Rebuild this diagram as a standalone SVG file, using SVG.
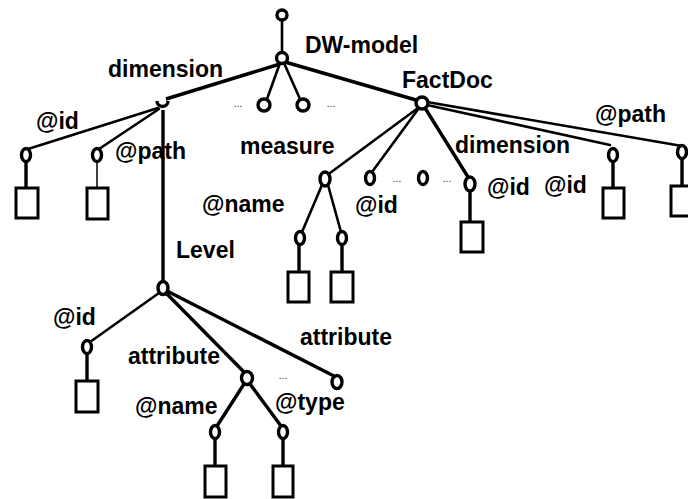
<svg xmlns="http://www.w3.org/2000/svg" width="688" height="499" viewBox="0 0 688 499">
<style>
.n{fill:#fff;stroke:#000;stroke-width:3.4}
.leaf{fill:#fff;stroke:#000;stroke-width:3}
.e{stroke:#000;stroke-width:2.6;fill:none;stroke-linecap:round}
.t{stroke:#000;stroke-width:3.4;fill:none}
.thin{stroke:#000;stroke-width:1.5;fill:none}
.lbl{font-family:"Liberation Sans",Arial,sans-serif;font-weight:bold;font-size:23px;fill:#000}
.dots{font-family:"Liberation Sans",Arial,sans-serif;font-size:10px;fill:#222;text-anchor:middle}
</style>
<rect width="688" height="499" fill="#fff"/>
<g id="connectors">
<line class="e" x1="282" y1="20" x2="282" y2="53"/>
<line class="t" x1="280" y1="64" x2="166" y2="99"/>
<line class="e" x1="280" y1="63" x2="267" y2="99"/>
<line class="e" x1="284" y1="63" x2="300" y2="99"/>
<line class="t" x1="285" y1="62" x2="416" y2="100"/>
<line class="e" x1="158" y1="108" x2="28" y2="149"/>
<line class="e" x1="159" y1="109" x2="99" y2="149"/>
<line class="t" x1="163" y1="110" x2="163" y2="282"/>
<line class="t" x1="26" y1="161" x2="26" y2="188"/>
<line class="thin" x1="97" y1="161" x2="97" y2="188"/>
<line class="e" x1="418" y1="108" x2="330" y2="173"/>
<line class="e" x1="419" y1="108" x2="372" y2="172"/>
<line class="t" x1="425" y1="108" x2="468" y2="177"/>
<line class="e" x1="427" y1="105" x2="610" y2="145"/>
<line class="e" x1="427" y1="102" x2="682" y2="146"/>
<line class="e" x1="322" y1="185" x2="302" y2="232"/>
<line class="e" x1="328" y1="185" x2="341" y2="232"/>
<line class="t" x1="299" y1="244" x2="299" y2="272"/>
<line class="t" x1="342" y1="244" x2="342" y2="272"/>
<line class="t" x1="470" y1="191" x2="470" y2="222"/>
<line class="t" x1="613" y1="161" x2="613" y2="188"/>
<line class="t" x1="682" y1="158" x2="682" y2="186"/>
<line class="e" x1="159" y1="293" x2="90" y2="342"/>
<line class="t" x1="166" y1="293" x2="244" y2="372"/>
<line class="t" x1="167" y1="291" x2="334" y2="376"/>
<line class="t" x1="87" y1="353" x2="87" y2="381"/>
<line class="t" x1="244" y1="384" x2="217" y2="426"/>
<line class="t" x1="250" y1="384" x2="281" y2="426"/>
<line class="t" x1="215" y1="438" x2="215" y2="466"/>
<line class="t" x1="283" y1="438" x2="283" y2="466"/>
</g>
<g id="root"><circle class="n" cx="282" cy="15" r="5"/></g>
<g id="dwmodel"><circle class="n" cx="282" cy="58" r="5.5"/><text class="lbl" x="305" y="53">DW-model</text></g>
<g id="dw-child1"><circle class="n" cx="264" cy="105" r="6"/><text class="dots" x="238" y="107">...</text></g>
<g id="dw-child2"><circle class="n" cx="303" cy="105" r="6"/><text class="dots" x="331" y="107">...</text></g>
<g id="dimension"><path class="n" d="M157,101 A5.5,5.5 0 0 0 168,101" fill="none"/><text class="lbl" x="108" y="77">dimension</text></g>
<g id="dim-id"><ellipse class="n" cx="26" cy="155" rx="4.5" ry="6.5"/><rect class="leaf" x="16" y="188" width="22" height="30"/><text class="lbl" x="36" y="129">@id</text></g>
<g id="dim-path"><ellipse class="n" cx="97" cy="155" rx="4.5" ry="6.5"/><rect class="leaf" x="87" y="188" width="21" height="31"/><text class="lbl" x="115" y="159">@path</text></g>
<g id="factdoc"><circle class="n" cx="422" cy="103" r="6"/><text class="lbl" x="402" y="88">FactDoc</text></g>
<g id="measure"><ellipse class="n" cx="325" cy="179" rx="5" ry="7"/><text class="lbl" x="240" y="154">measure</text></g>
<g id="measure-name"><ellipse class="n" cx="300" cy="238" rx="4.5" ry="6.5"/><rect class="leaf" x="288" y="272" width="21" height="30"/><text class="lbl" x="202" y="212">@name</text></g>
<g id="measure-2"><ellipse class="n" cx="342" cy="238" rx="4.5" ry="6.5"/><rect class="leaf" x="331" y="272" width="22" height="30"/></g>
<g id="fd-id"><ellipse class="n" cx="370" cy="178" rx="4.5" ry="6.5"/><text class="lbl" x="355" y="213">@id</text><text class="dots" x="397" y="182">...</text></g>
<g id="fd-mid"><ellipse class="n" cx="423" cy="178" rx="4.5" ry="6.5"/><text class="dots" x="447" y="182">...</text></g>
<g id="fd-dimension"><ellipse class="n" cx="470" cy="184" rx="5" ry="7"/><rect class="leaf" x="461" y="222" width="22" height="30"/><text class="lbl" x="455" y="153">dimension</text><text class="lbl" x="487" y="195">@id</text></g>
<g id="fd-id2"><ellipse class="n" cx="613" cy="155" rx="4.5" ry="6.5"/><rect class="leaf" x="603" y="188" width="21" height="30"/><text class="lbl" x="544" y="193">@id</text></g>
<g id="fd-path"><ellipse class="n" cx="682" cy="152" rx="4.5" ry="6.5"/><rect class="leaf" x="671" y="186" width="22" height="30"/><text class="lbl" x="595" y="122">@path</text></g>
<g id="level"><ellipse class="n" cx="163" cy="288" rx="5" ry="6.5"/><text class="lbl" x="176" y="258">Level</text></g>
<g id="level-id"><ellipse class="n" cx="87" cy="347" rx="4.5" ry="6.5"/><rect class="leaf" x="76" y="381" width="22" height="31"/><text class="lbl" x="53" y="325">@id</text></g>
<g id="attribute1"><ellipse class="n" cx="247" cy="378" rx="5.5" ry="6.5"/><text class="lbl" x="128" y="364">attribute</text><text class="dots" x="283" y="379">...</text></g>
<g id="attribute2"><ellipse class="n" cx="337" cy="382" rx="5" ry="6.5"/><text class="lbl" x="300" y="345">attribute</text></g>
<g id="attr-name"><ellipse class="n" cx="215" cy="432" rx="4.5" ry="6.5"/><rect class="leaf" x="205" y="466" width="21" height="31"/><text class="lbl" x="135" y="414">@name</text></g>
<g id="attr-type"><ellipse class="n" cx="283" cy="432" rx="4.5" ry="6.5"/><rect class="leaf" x="273" y="466" width="20" height="31"/><text class="lbl" x="275" y="410">@type</text></g>
</svg>
